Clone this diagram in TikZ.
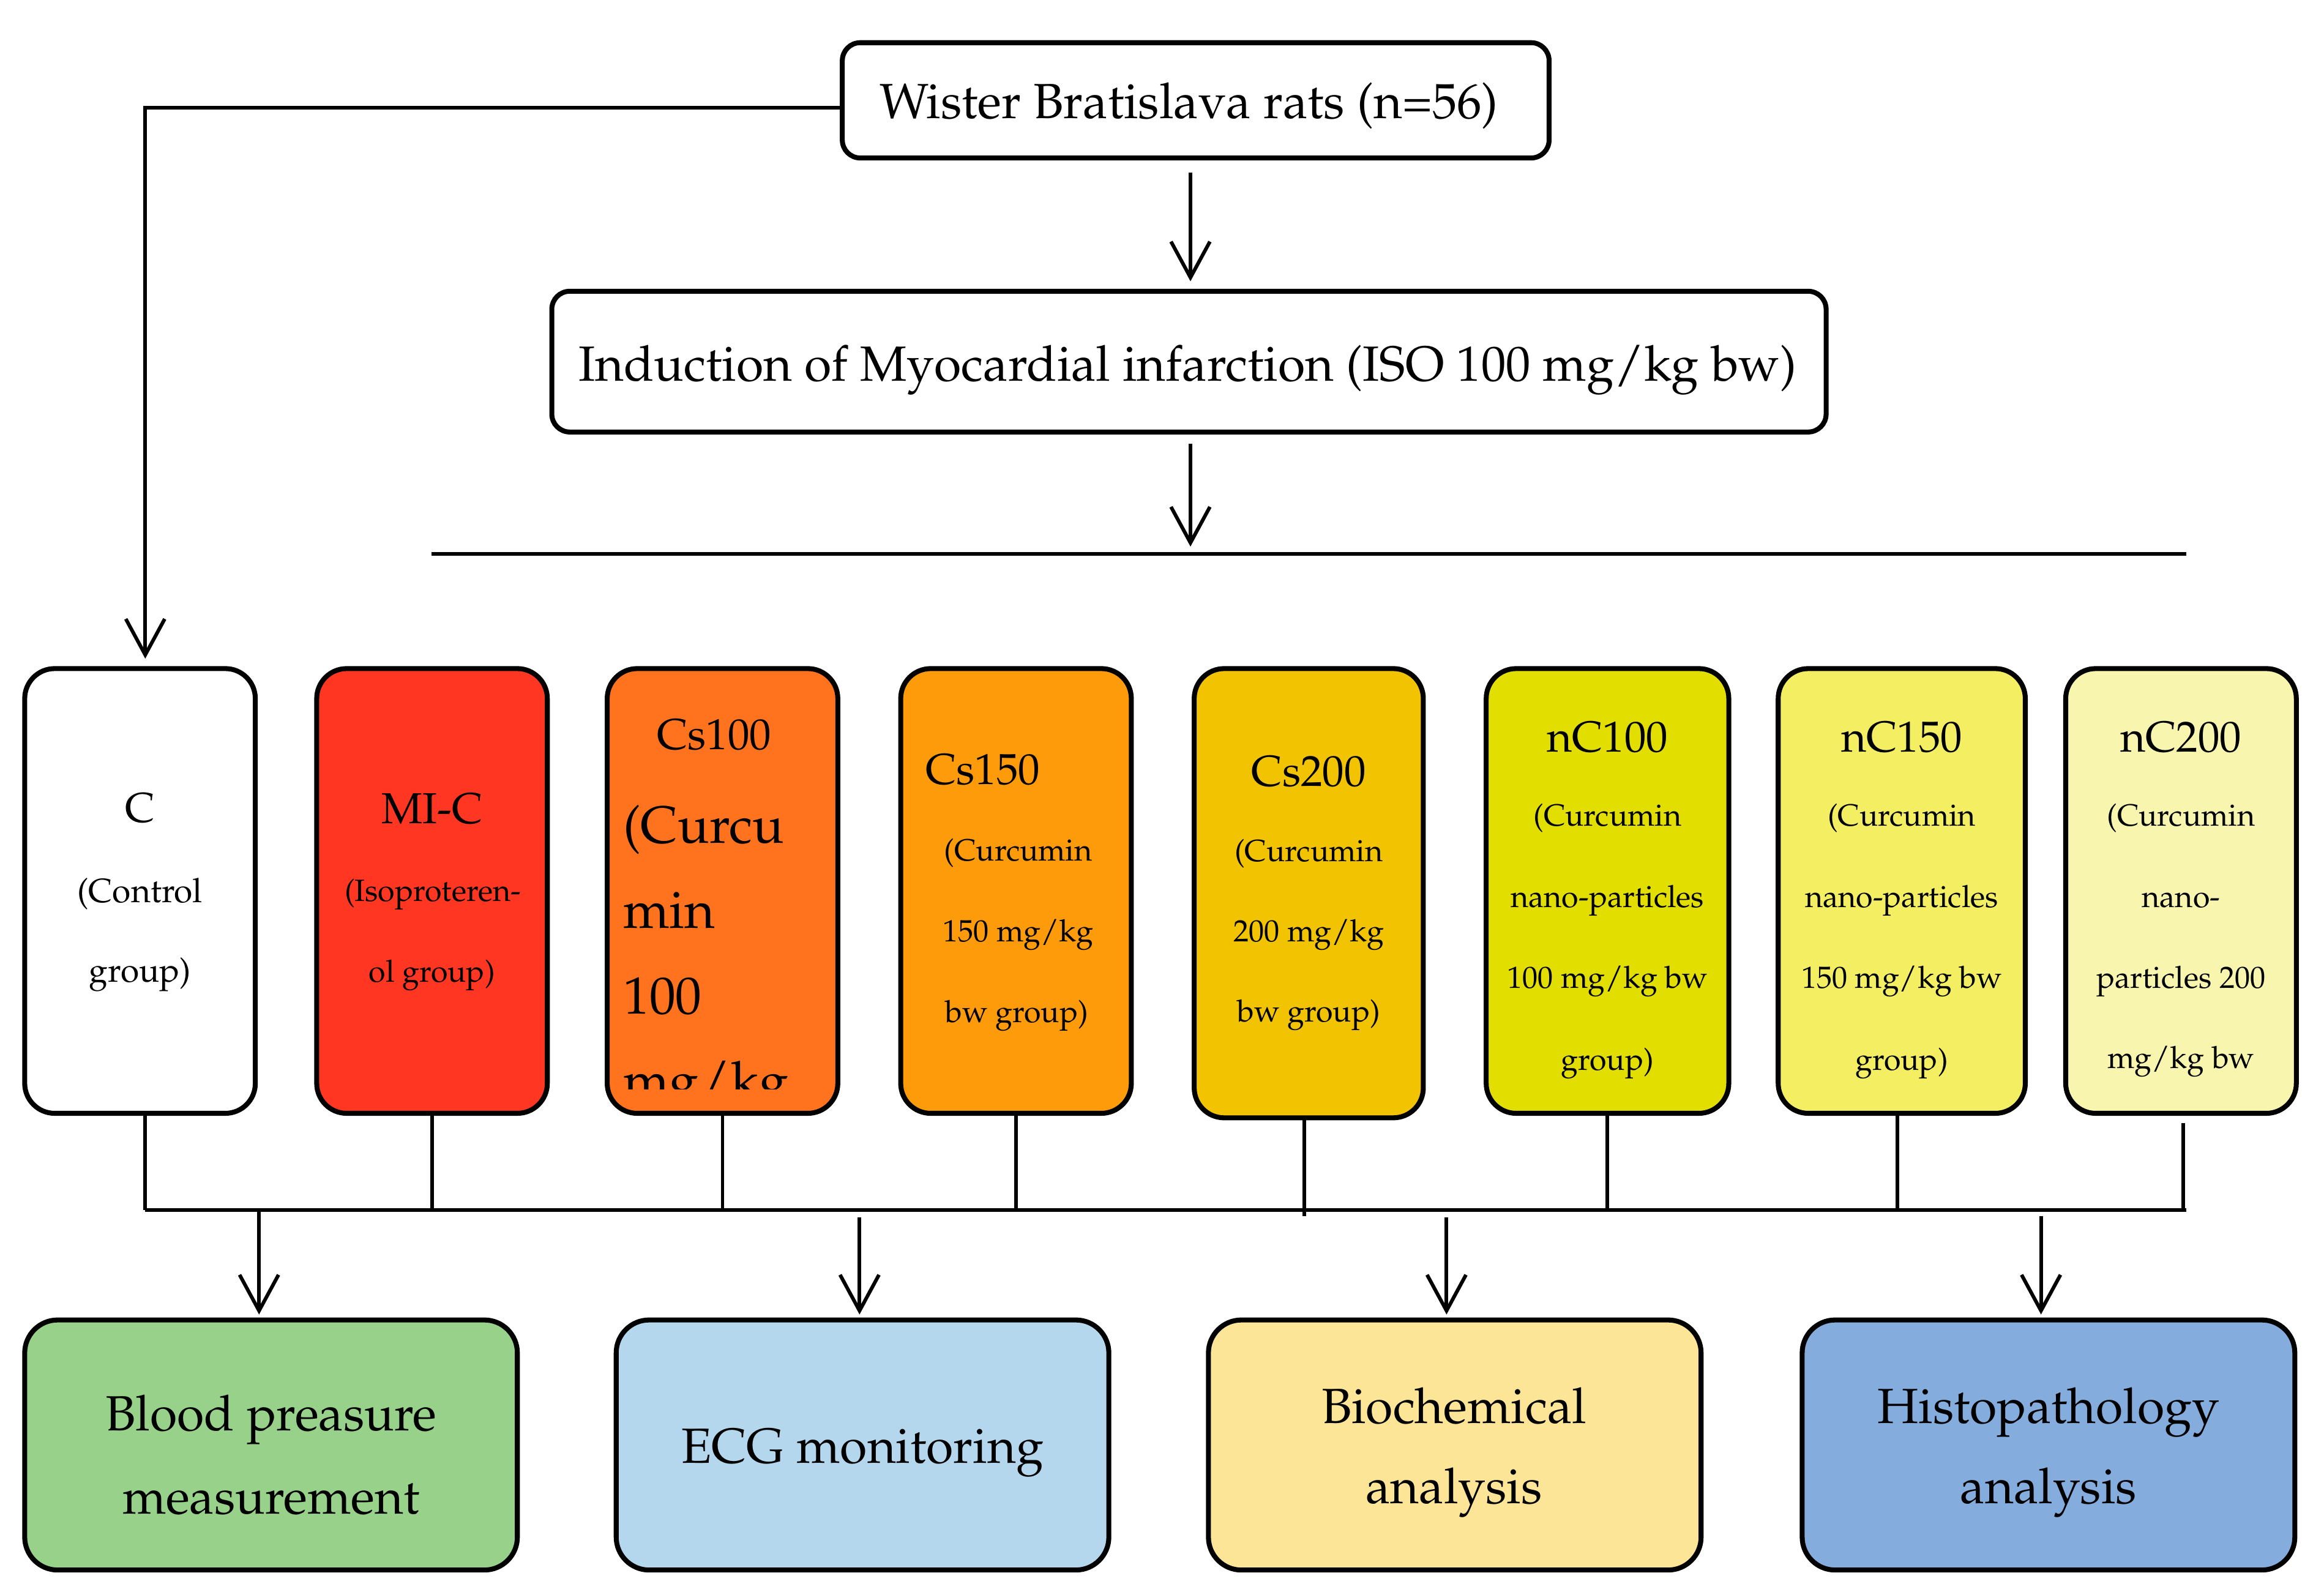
\documentclass[tikz,border=0pt]{standalone}
\usepackage[T1]{fontenc}
\usepackage{mathpazo}
\usetikzlibrary{arrows.meta,calc}
\definecolor{cMI}{HTML}{FF3621}
\definecolor{cCsA}{HTML}{FF731E}
\definecolor{cCsB}{HTML}{FD9B0B}
\definecolor{cCsC}{HTML}{F2C300}
\definecolor{cnCA}{HTML}{E2DF00}
\definecolor{cnCB}{HTML}{F4EF62}
\definecolor{cnCC}{HTML}{F8F5AE}
\definecolor{cBP}{HTML}{97D18A}
\definecolor{cECG}{HTML}{B4D7EE}
\definecolor{cBIO}{HTML}{FDE598}
\definecolor{cHIS}{HTML}{84ACDC}
\begin{document}
\begin{tikzpicture}[x=1pt,y=-1pt,
  box/.style={draw, line width=3.3pt, rounded corners=20pt, inner sep=0pt},
  topbox/.style={box, rounded corners=12pt},
  grp/.style={box, minimum width=154pt, minimum height=297pt},
  res/.style={box, rounded corners=22pt, minimum width=329pt, minimum height=167pt},
  conn/.style={line width=2.4pt},
  arr/.style={line width=2.4pt, -{Straight Barb[length=24pt,width=26pt]}},
  maintxt/.style={font=\fontsize{33}{40}\selectfont, inner sep=0pt, anchor=base},
  ttl/.style={font=\fontsize{29}{35}\selectfont, inner sep=0pt, anchor=base},
  sub/.style={font=\fontsize{20.5}{25}\selectfont, inner sep=0pt, anchor=base},
  big/.style={font=\fontsize{35}{40}\selectfont, inner sep=0pt, anchor=base west}
]
\useasboundingbox (0,0) rectangle (1552,1065);

% top boxes
\node[topbox, minimum width=472pt, minimum height=77pt] (wister) at (798.5,67) {};
\node[maintxt] (wistert) at (794,79) {Wister Bratislava rats (n=56)};
\node[topbox, minimum width=851pt, minimum height=94pt] (induct) at (794,241.5) {};
\node[maintxt] (inductt) at (793,254.5) {Induction of Myocardial infarction (ISO 100 mg/kg bw)};

\coordinate (hlL) at (288,370);
\coordinate (hlR) at (1460,370);
\draw[line width=2.6pt] (hlL) -- (hlR);

% group boxes
\node[grp, fill=white] (cbox) at (93.5,595) {};
\node[grp, fill=cMI] (mic) at (288.5,595) {};
\node[grp, fill=cCsA] (csa) at (482.5,595) {};
\node[grp, fill=cCsB] (csb) at (678.5,595) {};
\node[grp, fill=cCsC, minimum width=153pt, minimum height=300pt] (csc) at (874,596.5) {};
\node[grp, fill=cnCA, minimum width=162pt] (nca) at (1073.5,595) {};
\node[grp, fill=cnCB, minimum width=165pt] (ncb) at (1270,595) {};
\node[grp, fill=cnCC] (ncc) at (1456.5,595) {};

% group texts
\node[ttl, font=\fontsize{28}{35}\selectfont] (tc1) at (93.5,549) {C};
\node[sub, font=\fontsize{22.5}{25}\selectfont] (tc2) at (93.5,602.5) {(Control};
\node[sub, font=\fontsize{22.5}{25}\selectfont] (tc3) at (93.5,656) {group)};

\node[ttl] (tm1) at (288.5,550) {MI-C};
\node[sub] (tm2) at (289,602) {(Isoproteren-};
\node[sub] (tm3) at (288.5,656) {ol group)};

\node[ttl] (ta1) at (477,500.5) {Cs100};
\begin{scope}
  \clip (csa.north west) rectangle ($(csa.south east)+(0,-18)$);
  \node[big] (ta2) at (416,563) {(Curcu};
  \node[big] (ta3) at (416,620) {min};
  \node[big] (ta4) at (416,677) {100};
  \node[big] (ta5) at (416,734) {mg/kg};
\end{scope}

\node[ttl, anchor=base west] (tb1) at (618,524) {Cs150};
\node[sub] (tb2) at (680,575) {(Curcumin};
\node[sub] (tb3) at (680,629) {150 mg/kg};
\node[sub] (tb4) at (679,683) {bw group)};

\node[ttl] (tcs1) at (874,525) {Cs200};
\node[sub] (tcs2) at (874,575.5) {(Curcumin};
\node[sub] (tcs3) at (874,629) {200 mg/kg};
\node[sub] (tcs4) at (874,682.5) {bw group)};

\node[ttl] (tn1) at (1073.5,502) {nC100};
\node[sub] (tn2) at (1073.5,551.5) {(Curcumin};
\node[sub] (tn3) at (1073.5,606) {nano-particles};
\node[sub] (tn4) at (1073.5,660) {100 mg/kg bw};
\node[sub] (tn5) at (1073.5,714.5) {group)};

\node[ttl] (to1) at (1270,502) {nC150};
\node[sub] (to2) at (1270,551.5) {(Curcumin};
\node[sub] (to3) at (1270,606) {nano-particles};
\node[sub] (to4) at (1270,660) {150 mg/kg bw};
\node[sub] (to5) at (1270,714.5) {group)};

\node[ttl] (tp1) at (1456.5,502) {nC200};
\node[sub] (tp2) at (1456.5,551.5) {(Curcumin};
\node[sub] (tp3) at (1456.5,606) {nano-};
\node[sub] (tp4) at (1456.5,660) {particles 200};
\node[sub] (tp5) at (1456.5,713.5) {mg/kg bw};

% result boxes
\node[res, fill=cBP] (bp) at (181,965) {};
\node[res, fill=cECG] (ecg) at (576,965) {};
\node[res, fill=cBIO] (bio) at (971.5,965) {};
\node[res, fill=cHIS] (his) at (1368,965) {};
\node[maintxt] (bpt1) at (181,955.5) {Blood preasure};
\node[maintxt] (bpt2) at (181,1011) {measurement};
\node[maintxt] (ecgt) at (576,977) {ECG monitoring};
\node[maintxt] (biot1) at (971,950.5) {Biochemical};
\node[maintxt] (biot2) at (971,1004) {analysis};
\node[maintxt] (hist1) at (1368,950.5) {Histopathology};
\node[maintxt] (hist2) at (1368,1004) {analysis};

% top arrows
\draw[arr] ($(wister.south)+(-3.5,8)$) -- ($(induct.north)+(1,-5)$);
\draw[arr] ($(induct.south)+(1,6)$) -- ($(induct.south |- hlL)+(1,-5)$);
\draw[arr] ($(wister.west)+(0,5)$) -| ($(cbox.north)+(3.5,-5)$);

% bus
\coordinate (busL) at (97,808);
\coordinate (busR) at (1460,808);
\draw[line width=2.6pt] (busL) -- (busR);
\draw[conn] ($(cbox.south)+(3.5,0)$) -- ($(cbox.south |- busL)+(3.5,0)$);
\draw[conn] (mic.south) -- (mic.south |- busL);
\draw[conn] (csa.south) -- (csa.south |- busL);
\draw[conn] (csb.south) -- (csb.south |- busL);
\draw[conn] ($(csc.south)+(-3,0)$) -- ($(csc.south |- busL)+(-3,4)$);
\draw[conn] (nca.south) -- (nca.south |- busL);
\draw[conn] ($(ncb.south)+(-3,0)$) -- ($(ncb.south |- busL)+(-3,0)$);
\draw[conn] ($(ncc.south)+(1.5,5)$) -- ($(ncc.south |- busL)+(1.5,0)$);

% result arrows
\draw[arr] ($(bp.north |- busL)+(-8,0)$) -- ($(bp.north)+(-8,-2)$);
\draw[arr] ($(ecg.north |- busL)+(-2,5)$) -- ($(ecg.north)+(-2,-2)$);
\draw[arr] ($(bio.north |- busL)+(-5.5,5)$) -- ($(bio.north)+(-5.5,-2)$);
\draw[arr] ($(his.north |- busL)+(-5,4)$) -- ($(his.north)+(-5,-2)$);
\end{tikzpicture}
\end{document}
